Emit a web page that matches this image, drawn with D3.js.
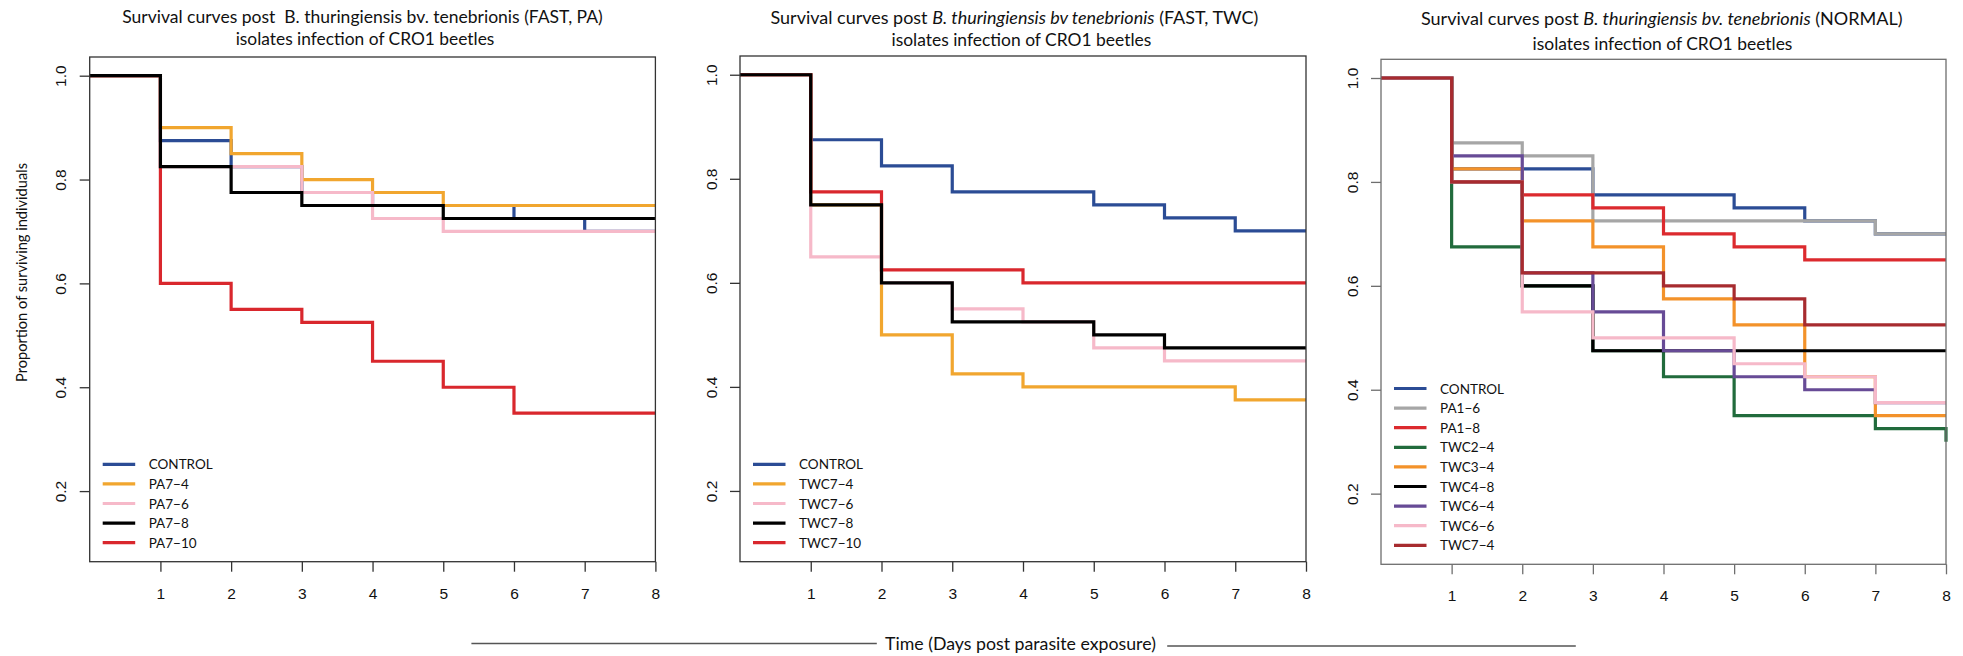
<!DOCTYPE html>
<html><head><meta charset="utf-8">
<script src="https://cdn.jsdelivr.net/npm/d3@7"></script>
<style>
html,body{margin:0;padding:0;background:#fff;}
svg{display:block;}
</style></head>
<body>
<svg id="chart" width="1963" height="656"></svg>
<script>
// ---- data -------------------------------------------------------------
const days = [0, 1, 2, 3, 4, 5, 6, 7, 8];
const xTicks = [1, 2, 3, 4, 5, 6, 7, 8];
const yTicks = [0.2, 0.4, 0.6, 0.8, 1.0];
const yLimits = [0.1, 1.0];

// FAST, PA isolates
const paLabels = ["CONTROL", "PA7−4", "PA7−6", "PA7−8", "PA7−10"];
const paColors = ["#2b4c95", "#f1a62f", "#f6b9c9", "#000000", "#d9272d"];
const paControl = [1, 0.875, 0.825, 0.775, 0.75, 0.75, 0.725, 0.70, 0.70];
const pa7_4     = [1, 0.90, 0.85, 0.80, 0.775, 0.75, 0.75, 0.75, 0.75];
const pa7_6     = [1, 0.825, 0.825, 0.775, 0.725, 0.70, 0.70, 0.70, 0.70];
const pa7_8     = [1, 0.825, 0.775, 0.75, 0.75, 0.725, 0.725, 0.725, 0.725];
const pa7_10    = [1, 0.60, 0.55, 0.525, 0.45, 0.40, 0.35, 0.35, 0.35];
const paDrawOrder = [0, 1, 2, 4, 3];

// FAST, TWC isolates
const twcLabels = ["CONTROL", "TWC7−4", "TWC7−6", "TWC7−8", "TWC7−10"];
const twcColors = ["#2b4c95", "#f1a62f", "#f6b9c9", "#000000", "#d9272d"];
const twcControl = [1, 0.875, 0.825, 0.775, 0.775, 0.75, 0.725, 0.70, 0.70];
const twc7_4     = [1, 0.75, 0.50, 0.425, 0.40, 0.40, 0.40, 0.375, 0.375];
const twc7_6     = [1, 0.65, 0.60, 0.55, 0.525, 0.475, 0.45, 0.45, 0.45];
const twc7_8     = [1, 0.75, 0.60, 0.525, 0.525, 0.50, 0.475, 0.475, 0.475];
const twc7_10    = [1, 0.775, 0.625, 0.625, 0.60, 0.60, 0.60, 0.60, 0.60];
const twcDrawOrder = [0, 1, 2, 4, 3];

// NORMAL isolates
const nrmLabels = ["CONTROL", "PA1−6", "PA1−8", "TWC2−4", "TWC3−4", "TWC4−8", "TWC6−4", "TWC6−6", "TWC7−4"];
const nrmColors = ["#2b4c95", "#a6a6a6", "#dc2a2e", "#216b3c", "#f3922a", "#000000", "#674b96", "#f6b9c9", "#a72b2f"];
const nrmControl = [1, 0.825, 0.825, 0.775, 0.775, 0.75, 0.725, 0.70, 0.70];
const nrmPA1_6   = [1, 0.875, 0.85, 0.725, 0.725, 0.725, 0.725, 0.70, 0.70];
const nrmPA1_8   = [1, 0.80, 0.775, 0.75, 0.70, 0.675, 0.65, 0.65, 0.65];
const nrmTWC2_4  = [1, 0.675, 0.60, 0.475, 0.425, 0.35, 0.35, 0.325, 0.30];
const nrmTWC3_4  = [1, 0.825, 0.725, 0.675, 0.575, 0.525, 0.425, 0.35, 0.35];
const nrmTWC4_8  = [1, 0.80, 0.60, 0.475, 0.475, 0.475, 0.475, 0.475, 0.475];
const nrmTWC6_4  = [1, 0.85, 0.625, 0.55, 0.475, 0.425, 0.40, 0.375, 0.375];
const nrmTWC6_6  = [1, 0.80, 0.55, 0.50, 0.50, 0.45, 0.425, 0.375, 0.375];
const nrmTWC7_4  = [1, 0.80, 0.625, 0.625, 0.60, 0.575, 0.525, 0.525, 0.525];
const nrmDrawOrder = [0, 1, 2, 3, 4, 5, 6, 7, 8];

const xLabel = "Time (Days post parasite exposure)";
const yLabel = "Proportion of surviving individuals";

// ---- layout -----------------------------------------------------------
const TEXT_FONT = "Lato, 'Open Sans', sans-serif";
const TICK_FONT = "'Liberation Sans', Arial, sans-serif";

const panels = [
  {
    box: {left: 89.7, right: 655.4, top: 57, bottom: 561.7}, axisColor: "#333",
    title: [
      [{t: "Survival curves post  B. thuringiensis bv. tenebrionis (FAST, PA)"}],
      [{t: "isolates infection of CRO1 beetles"}]
    ],
    titleX: [362.5, 365], titleY: [23.3, 45], titleW: [481, 259],
    labels: paLabels, colors: paColors, order: paDrawOrder,
    series: [paControl, pa7_4, pa7_6, pa7_8, pa7_10]
  },
  {
    box: {left: 740, right: 1306, top: 56, bottom: 561.7}, axisColor: "#333",
    title: [
      [{t: "Survival curves post "}, {t: "B. thuringiensis bv tenebrionis", i: true}, {t: " (FAST, TWC)"}],
      [{t: "isolates infection of CRO1 beetles"}]
    ],
    titleX: [1014.4, 1021.4], titleY: [24, 46], titleW: [488, 260],
    labels: twcLabels, colors: twcColors, order: twcDrawOrder,
    series: [twcControl, twc7_4, twc7_6, twc7_8, twc7_10]
  },
  {
    box: {left: 1381, right: 1946, top: 59.3, bottom: 564.3}, axisColor: "#6e6e6e",
    title: [
      [{t: "Survival curves post "}, {t: "B. thuringiensis bv. tenebrionis", i: true}, {t: " (NORMAL)"}],
      [{t: "isolates infection of CRO1 beetles"}]
    ],
    titleX: [1661.8, 1662.5], titleY: [25, 50], titleW: [482, 260],
    labels: nrmLabels, colors: nrmColors, order: nrmDrawOrder,
    series: [nrmControl, nrmPA1_6, nrmPA1_8, nrmTWC2_4, nrmTWC3_4, nrmTWC4_8, nrmTWC6_4, nrmTWC6_6, nrmTWC7_4]
  }
];

const svg = d3.select("#chart");

// scale a text element's font size so that it spans the given width
function fitWidth(sel, width) {
  const len = sel.node().getComputedTextLength();
  const fs = parseFloat(sel.attr("font-size"));
  if (len > 0) sel.attr("font-size", (fs * width / len).toFixed(2));
  return sel;
}

// legend font size from the width of the "CONTROL" entry
const probe = svg.append("text").attr("font-family", TEXT_FONT).attr("font-size", 16).text("CONTROL");
fitWidth(probe, 64);
const legendFont = +probe.attr("font-size");
probe.remove();

panels.forEach(p => {
  const b = p.box;
  const pad = (yLimits[1] - yLimits[0]) * 0.04;
  const x = d3.scaleLinear().domain([0, 8]).range([b.left, b.right]);
  const y = d3.scaleLinear().domain([yLimits[0] - pad, yLimits[1] + pad]).range([b.bottom, b.top]);
  const g = svg.append("g");

  // survival step curves
  const line = d3.line()
    .x((d, i) => x(days[i]))
    .y(d => y(d))
    .curve(d3.curveStepAfter);
  p.order.forEach(k => {
    g.append("path")
      .datum(p.series[k])
      .attr("d", line)
      .attr("fill", "none")
      .attr("stroke", p.colors[k])
      .attr("stroke-width", 3.2)
      .attr("stroke-linejoin", "miter")
      .attr("stroke-linecap", "butt");
  });

  // frame
  g.append("rect")
    .attr("x", b.left).attr("y", b.top)
    .attr("width", b.right - b.left).attr("height", b.bottom - b.top)
    .attr("fill", "none").attr("stroke", p.axisColor).attr("stroke-width", 1.3);

  // x axis
  const xa = g.append("g")
    .attr("transform", `translate(0,${b.bottom})`)
    .call(d3.axisBottom(x).tickValues(xTicks).tickSize(10).tickSizeOuter(0).tickFormat(d3.format("d")));
  xa.select(".domain").remove();
  xa.selectAll(".tick line").attr("stroke", p.axisColor).attr("stroke-width", 1.3);
  xa.selectAll(".tick text")
    .attr("y", 37).attr("dy", null)
    .attr("font-family", TICK_FONT).attr("font-size", 15.5).attr("fill", "#111");

  // y axis
  const ya = g.append("g")
    .attr("transform", `translate(${b.left},0)`)
    .call(d3.axisLeft(y).tickValues(yTicks).tickSize(10).tickSizeOuter(0).tickFormat(d3.format(".1f")));
  ya.select(".domain").remove();
  ya.selectAll(".tick line").attr("stroke", p.axisColor).attr("stroke-width", 1.3);
  ya.selectAll(".tick text")
    .attr("x", null).attr("dy", null)
    .attr("text-anchor", "middle")
    .attr("dominant-baseline", "central")
    .attr("transform", "translate(-29,0) rotate(-90)")
    .attr("font-family", TICK_FONT).attr("font-size", 15.5).attr("fill", "#111");

  // two-line title
  p.title.forEach((parts, li) => {
    const t = svg.append("text")
      .attr("x", p.titleX[li]).attr("y", p.titleY[li])
      .attr("text-anchor", "middle")
      .attr("font-family", TEXT_FONT).attr("font-size", 17)
      .attr("fill", "#111")
      .attr("xml:space", "preserve");
    parts.forEach(s => {
      t.append("tspan").attr("font-style", s.i ? "italic" : "normal").text(s.t);
    });
    fitWidth(t, p.titleW[li]);
  });

  // legend, anchored to the bottom-left corner of the frame
  const n = p.labels.length;
  const rowH = 19.6;
  p.labels.forEach((lab, i) => {
    const ry = b.bottom - 19 - (n - 1 - i) * rowH;
    g.append("line")
      .attr("x1", b.left + 13).attr("x2", b.left + 45.5)
      .attr("y1", ry).attr("y2", ry)
      .attr("stroke", p.colors[i]).attr("stroke-width", 3.2);
    g.append("text")
      .attr("x", b.left + 59).attr("y", ry)
      .attr("dominant-baseline", "central")
      .attr("font-family", TEXT_FONT).attr("font-size", legendFont)
      .attr("fill", "#111")
      .text(lab);
  });
});

// shared y label
const yl = svg.append("text")
  .attr("transform", "translate(21,272.5) rotate(-90)")
  .attr("text-anchor", "middle")
  .attr("dominant-baseline", "central")
  .attr("font-family", TEXT_FONT).attr("font-size", 16)
  .attr("fill", "#111")
  .text(yLabel);
fitWidth(yl, 219);

// shared x label with rules on either side
svg.append("line").attr("x1", 471.4).attr("x2", 876.8).attr("y1", 643.5).attr("y2", 643.5)
  .attr("stroke", "#555").attr("stroke-width", 1.3);
svg.append("line").attr("x1", 1167.2).attr("x2", 1575.8).attr("y1", 646).attr("y2", 646)
  .attr("stroke", "#555").attr("stroke-width", 1.3);
const xl = svg.append("text")
  .attr("x", 1020.5).attr("y", 650)
  .attr("text-anchor", "middle")
  .attr("font-family", TEXT_FONT).attr("font-size", 18)
  .attr("fill", "#111")
  .text(xLabel);
fitWidth(xl, 271);
</script>
</body></html>
